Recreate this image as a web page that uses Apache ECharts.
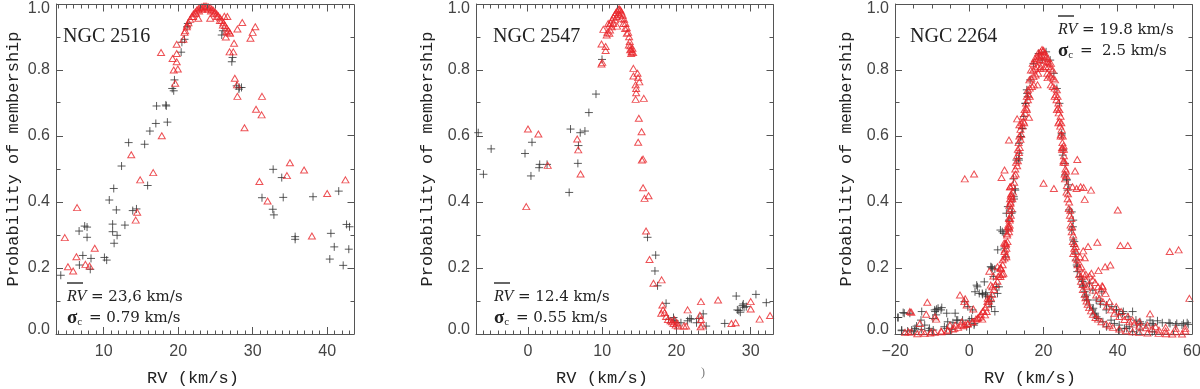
<!DOCTYPE html>
<html><head><meta charset="utf-8">
<script src="https://cdn.jsdelivr.net/npm/echarts@6/dist/echarts.min.js"></script>
<style>html,body{margin:0;padding:0;background:#fff}#c{width:1200px;height:389px}</style>
</head><body><div id="c"></div>
<script>
// ---------------- DATA ----------------
const clusterNames = ['NGC 2516', 'NGC 2547', 'NGC 2264'];
const meanRV = ['23,6', '12.4', '19.8'];
const sigmaC = ['0.79', '0.55', ' 2.5'];
const xTitle = 'RV (km/s)';
const yTitle = 'Probability of membership';
const xTicks1 = [10, 20, 30, 40];
const xTicks2 = [0, 10, 20, 30];
const xTicks3 = [-20, 0, 20, 40, 60];
const xTickLabels3 = ['\u221220', '0', '20', '40', '60'];
const yTickLabels = ['0.0', '0.2', '0.4', '0.6', '0.8', '1.0'];

// NGC 2516 — red triangles
const red1 = [
[4.78,0.292],[5.2,0.204],[5.9,0.191],[6.43,0.383],[6.34,0.234],[7.55,0.211],[8.1,0.206],[8.8,0.26],
[13.7,0.543],[14.3,0.345],[14.5,0.369],[14.9,0.467],[16.65,0.489],[17.8,0.601],[17.7,0.853],
[19.25,0.835],[19.4,0.80],[19.6,0.76],[19.8,0.825],[19.8,0.85],[19.8,0.878],[19.95,0.803],
[20.7,0.893],[20.85,0.914],[21.2,0.936],[22.7,0.957],[24.3,0.957],
[20.94,0.919],[21.16,0.931],[21.38,0.943],[21.61,0.954],[21.83,0.962],[22.05,0.970],[22.28,0.976],
[22.5,0.982],[22.72,0.986],[22.95,0.989],[23.17,0.991],[23.39,0.993],[23.6,0.994],[23.84,0.993],
[24.06,0.991],[24.29,0.989],[24.51,0.985],[24.73,0.981],[24.96,0.976],[25.18,0.970],[25.4,0.964],
[25.63,0.958],[25.85,0.951],[26.07,0.943],[26.29,0.935],[26.52,0.927],[26.74,0.919],[26.96,0.911],
[22.0,0.962],[22.4,0.972],[22.8,0.979],[23.2,0.984],[23.6,0.986],[24.0,0.984],[24.4,0.979],
[24.8,0.972],[25.2,0.962],[25.6,0.950],[26.0,0.936],
[26.2,0.963],[26.6,0.962],[26.5,0.916],[26.9,0.914],[26.4,0.90],[26.9,0.855],[27.4,0.855],
[27.5,0.881],[27.6,0.775],[27.9,0.755],[27.95,0.72],[27.95,0.924],[28.6,0.944],[29.7,0.896],
[30.0,0.914],[30.35,0.931],[30.45,0.681],[31.25,0.72],[31.2,0.664],[28.9,0.625],[30.9,0.462],
[32.0,0.403],[34.6,0.48],[35.0,0.519],[36.9,0.497],[37.95,0.297],[40.0,0.426],[42.45,0.467]
];
// NGC 2516 — black crosses
const black1 = [
[4.24,0.178],[6.7,0.312],[6.74,0.209],[7.2,0.238],[7.45,0.327],[7.77,0.324],[7.77,0.293],[8.3,0.229],
[8.2,0.196],[10.1,0.232],[10.4,0.224],[10.75,0.406],[11.2,0.333],[11.2,0.31],[11.4,0.275],[11.35,0.441],
[11.7,0.376],[11.8,0.299],[12.4,0.509],[12.85,0.33],[13.35,0.58],[13.9,0.374],[14.4,0.379],[15.5,0.575],
[15.9,0.45],[16.2,0.615],[17.0,0.638],[17.1,0.691],[18.35,0.694],[18.4,0.691],[18.55,0.642],[19.2,0.744],
[19.4,0.737],[19.5,0.77],[20.4,0.854],[20.5,0.884],[20.85,0.893],[21.2,0.931],[21.3,0.941],[26.0,0.919],
[25.85,0.906],[27.3,0.838],[27.2,0.825],[27.85,0.752],[28.2,0.747],[28.5,0.747],[28.15,0.742],
[31.25,0.413],[32.75,0.499],[32.7,0.378],[32.85,0.361],[33.9,0.474],[34.1,0.414],[35.7,0.295],
[35.7,0.287],[38.1,0.416],[40.35,0.227],[40.5,0.305],[40.95,0.264],[41.55,0.433],[42.15,0.208],
[42.6,0.332],[43.0,0.325],[42.9,0.257]
];

// NGC 2547 — red triangles
const red2 = [
[0,0.621],[1.4,0.606],[2.66,0.511],[-0.23,0.386],[6.63,0.591],[6.77,0.558],[7.08,0.485],
[9.9,0.879],[9.9,0.818],[10.0,0.823],[10.15,0.923],[10.46,0.871],[10.46,0.859],[10.6,0.906],
[10.7,0.914],[10.96,0.911],[10.8,0.941],[12.0,0.933],
[10.96,0.936],[11.14,0.943],[11.32,0.952],[11.5,0.96],[11.68,0.967],[11.86,0.974],[12.04,0.98],
[12.18,0.984],[12.31,0.985],[12.45,0.982],[12.58,0.976],[12.77,0.966],[12.95,0.954],[13.13,0.941],
[13.31,0.928],[13.49,0.914],[13.62,0.901],[13.71,0.886],[13.8,0.873],[13.89,0.863],[13.98,0.856],
[13.58,0.876],[13.76,0.861],[14.07,0.866],[13.9,0.85],[14.16,0.853],
[11.73,0.952],[11.95,0.962],[12.18,0.97],[12.4,0.967],[12.63,0.957],[12.86,0.941],[13.08,0.926],
[13.31,0.911],[11.5,0.941],[11.28,0.931],[11.05,0.921],
[14.2,0.805],[14.2,0.782],[14.5,0.755],[14.75,0.79],[14.84,0.777],[15.0,0.764],[14.57,0.744],
[14.57,0.731],[14.5,0.711],[15.6,0.714],[14.93,0.654],[15.3,0.613],[14.84,0.581],[15.34,0.527],
[15.5,0.53],[15.5,0.443],[15.7,0.411],[16.24,0.419],[15.9,0.312],[16.37,0.226],[16.9,0.154],
[18.0,0.164],[18.1,0.088],[17.95,0.063],[18.2,0.073],[18.4,0.065],[18.6,0.053],[18.85,0.044],
[19.2,0.04],[19.4,0.037],[19.6,0.032],[19.9,0.027],[20.2,0.024],[19.7,0.044],[20.07,0.034],
[21.5,0.073],[21.3,0.024],[21.0,0.024],[23.3,0.098],[23.15,0.057],[23.3,0.044],[23.25,0.022],
[23.5,0.027],[25.6,0.103],[27.4,0.032],[27.97,0.034],[30.0,0.098],[30.0,0.076],[31.2,0.045],[32.6,0.056]
];
// NGC 2547 — black crosses
const black2 = [
[-6.7,0.61],[-6.0,0.484],[-4.96,0.561],[-0.4,0.547],[0.54,0.581],[0.4,0.479],[1.5,0.504],[1.58,0.514],
[2.57,0.514],[5.55,0.429],[5.73,0.621],[6.72,0.517],[6.8,0.571],[7.04,0.61],[7.67,0.615],[8.2,0.671],
[9.16,0.727],[9.97,0.832],[16.1,0.293],[17.2,0.239],[17.1,0.191],[17.45,0.146],[18.6,0.093],
[18.94,0.045],[19.6,0.05],[19.76,0.04],[19.94,0.035],[20.6,0.034],[21.5,0.04],[21.8,0.047],[22.0,0.045],
[22.7,0.034],[23.0,0.047],[23.6,0.061],[24.0,0.024],[26.5,0.032],[28.05,0.115],[28.2,0.073],[28.4,0.071],
[28.6,0.066],[28.9,0.086],[29.1,0.081],[29.4,0.083],[29.0,0.091],[30.7,0.12],[32.1,0.095]
];

// NGC 2264 — red triangles (main bell)
const red3Core = [
[19.6,0.862],[20.0,0.86],[18.6,0.852],[19.2,0.855],[19.8,0.856],[20.4,0.852],
[17.7,0.835],[18.3,0.84],[18.9,0.843],[19.5,0.845],[20.1,0.845],[20.7,0.84],[21.2,0.835],
[17.1,0.82],[17.7,0.825],[18.3,0.83],[19.0,0.832],[19.8,0.83],[20.4,0.83],[21.0,0.826],[21.5,0.822],[22.0,0.82],
[16.6,0.80],[17.2,0.80],[17.8,0.805],[18.4,0.81],[19.2,0.81],[20.0,0.805],[20.6,0.81],[21.3,0.81],[21.9,0.805],[22.5,0.80],
[17.9,0.785],[18.6,0.79],[21.0,0.79],[21.6,0.785],
[16.2,0.77],[16.7,0.775],[17.3,0.78],[22.0,0.78],[22.6,0.775],[23.1,0.77],
[15.8,0.74],[16.3,0.745],[16.9,0.75],[17.4,0.755],[22.0,0.755],[22.5,0.75],[23.0,0.745],[23.6,0.74],
[15.5,0.72],[16.0,0.725],[23.3,0.725],[23.8,0.72],
[15.3,0.70],[15.8,0.71],[16.3,0.72],[23.0,0.72],[23.5,0.71],[24.0,0.70],
[14.9,0.68],[15.4,0.685],[23.9,0.685],[24.3,0.68],
[14.5,0.66],[15.0,0.67],[15.5,0.68],[23.6,0.68],[24.1,0.67],[24.6,0.66],
[14.1,0.64],[14.6,0.645],[24.3,0.645],[24.8,0.64],
[13.8,0.62],[14.3,0.63],[14.8,0.64],[24.0,0.64],[24.5,0.63],[24.9,0.62],
[13.5,0.60],[14.0,0.605],[24.7,0.605],[25.2,0.60],
[13.3,0.58],[13.8,0.59],[24.6,0.60],[25.1,0.58],[25.4,0.57],
[13.1,0.56],[13.6,0.565],[25.0,0.565],[25.5,0.56],
[12.9,0.54],[13.4,0.55],[25.0,0.56],[25.5,0.54],
[12.6,0.52],[13.1,0.525],[25.4,0.525],[25.8,0.52],
[12.4,0.50],[12.9,0.51],[25.4,0.52],[25.9,0.50],
[12.1,0.48],[12.5,0.485],[25.7,0.485],[26.1,0.48],
[11.6,0.45],[12.1,0.46],[25.8,0.47],[26.3,0.45],
[11.3,0.425],[11.8,0.43],[26.2,0.43],[26.6,0.425],
[11.1,0.40],[11.6,0.41],[26.5,0.41],[26.9,0.40],
[10.9,0.375],[11.4,0.38],[26.8,0.38],[27.2,0.375],
[10.7,0.35],[11.2,0.36],[27.1,0.36],[27.5,0.35],
[10.5,0.325],[10.9,0.33],[27.3,0.33],[27.7,0.325],
[10.2,0.30],[10.7,0.31],[27.6,0.31],[28.0,0.30],
[9.9,0.275],[10.3,0.28],[27.9,0.28],[28.3,0.275],
[9.5,0.25],[10.0,0.26],[28.3,0.26],[28.7,0.25],
[9.0,0.225],[9.5,0.23],[28.7,0.23],[29.1,0.225],
[8.4,0.20],[9.0,0.21],[29.2,0.21],[29.6,0.20],
[7.8,0.175],[8.3,0.18],[29.6,0.18],[30.0,0.175],
[7.1,0.15],[7.6,0.16],[30.1,0.16],[30.5,0.15],
[6.6,0.135],[30.6,0.135],[6.2,0.12],[31.1,0.12],[5.8,0.11],[31.3,0.11],[5.3,0.10],[31.6,0.10],
[4.9,0.09],[31.9,0.09],[4.4,0.08],[32.3,0.08],[3.8,0.07],[32.8,0.07],[3.1,0.06],[33.3,0.06],
[2.4,0.05],[34.0,0.05],[1.8,0.045],[34.7,0.045],[0.8,0.037],[35.6,0.037],[-0.4,0.03],[36.9,0.03],
[-1.6,0.025],[37.8,0.025],[-3,0.02],[38.7,0.02],[-4.4,0.015],[40.4,0.015],[-5.8,0.01],[42.2,0.01],
[-7.5,0.007],[44.0,0.007],[-9.3,0.005],[45.8,0.005],[-10.5,0.003],[48,0.003],[-12,0.002],[51,0.002],
[-14,0.001],[53,0.001],[54.7,0.0],[57.3,0.0]
];
// NGC 2264 — red triangles (tails and lower sequence)
const red3Tail = [
[28.0,0.244],[28.7,0.265],[29.8,0.234],[30.2,0.204],[30.7,0.184],[31.4,0.164],[32.4,0.148],[33.3,0.133],
[34.2,0.118],[35.1,0.108],[36.0,0.098],[37.1,0.085],[38.2,0.073],[39.1,0.063],[40.4,0.053],[41.8,0.044],
[43.1,0.037],[44.4,0.03],[45.8,0.024],[47.6,0.019],[49.3,0.015],[51.1,0.012],[52.9,0.009],[55.6,0.007],
[58.2,0.009],[31.6,0.143],[32.9,0.184],[34.7,0.143],[35.6,0.133],[36.7,0.123],[37.8,0.098],[39.6,0.083],
[40.9,0.068],[42.7,0.053],[44.0,0.042],[45.8,0.037],[48.0,0.027],[50.2,0.022],[52.9,0.02],[55.6,0.017],
[58.2,0.017],[6.2,0.143],[4.9,0.098],[3.6,0.068],[2.2,0.047],[0.9,0.037],[-0.4,0.032],[-2.2,0.027],
[-4,0.017],[-5.8,0.012],[-7.6,0.009],[-10.2,0.007],[-12.9,0.007],[-15.6,0.006],[-17.3,0.005],
[7.6,0.204],[8.4,0.201],[6.5,0.176],[8.4,0.174],[9.2,0.184],[10.0,0.234],[9.7,0.275],[10.2,0.305],
[11.1,0.396],[11.4,0.416],[10.9,0.345],[10.7,0.325],
[-1.33,0.098],[-0.7,0.088],[1.1,0.076],[-9.2,0.052],[-13.3,0.032],[-16.4,0.007],[-5.2,0.027],[-3.8,0.027],
[-2.0,0.037],[-1.1,0.029],[2.9,0.052],[3.5,0.045],[4.25,0.058],[4.7,0.068],[4.97,0.108],[5.8,0.148],
[5.4,0.19],[8.56,0.199],[8.9,0.181],[9.6,0.255],[9.9,0.24],[9.9,0.27],[9.4,0.276],[10.5,0.33],[10.8,0.32],
[11.0,0.35],[10.8,0.39],[11.0,0.41],[11.2,0.42],[11.0,0.446],[16.1,0.657],
[33.9,0.156],[35.95,0.143]
];
// NGC 2264 — red triangles (outliers)
const red3Out = [
[-1.2,0.47],[1.3,0.485],[-11.3,0.096],[-15.6,0.066],[-16.0,0.068],[-11.6,0.06],[-8.9,0.045],[-2.5,0.118],
[-1.1,0.107],[10.7,0.588],[9.5,0.497],[8.7,0.474],[11.0,0.446],[12.9,0.652],[13.5,0.634],[18.4,0.755],
[19.1,0.805],[21.1,0.777],[20.0,0.457],[22.8,0.441],[29.1,0.529],[28.5,0.494],[26.07,0.494],[28.9,0.441],
[30.0,0.446],[27.8,0.446],[30.8,0.444],[32.8,0.436],[31.1,0.408],[40.0,0.376],[34.5,0.278],[32.0,0.265],
[40.7,0.268],[42.7,0.268],[34.8,0.192],[36.6,0.204],[38.0,0.209],[54.0,0.25],[56.4,0.255],[59.3,0.108],
[48.7,0.061],[30.7,0.252],[31.1,0.231],[31.4,0.181],[32.4,0.176],[33.3,0.164],[35.8,0.146]
];
// NGC 2264 — black crosses
const black3 = [
[-19.1,0.05],[-17.5,0.063],[-16.0,0.063],[-18.2,0.012],[-16.6,0.009],[-14.7,0.009],[-12.9,0.014],
[-14.2,0.024],[-12,0.027],[-10.7,0.017],[-9.3,0.073],[-8.4,0.078],[-7.6,0.073],[-8.9,0.058],[-9.8,0.047],
[-5.8,0.037],[-6.7,0.022],[-4.4,0.034],[-3.1,0.042],[-1.8,0.042],[-1.3,0.098],[-0.4,0.083],[0.9,0.073],
[0,0.042],[1.3,0.027],[2.2,0.143],[2.7,0.123],[3.6,0.12],[4.4,0.118],[4.9,0.113],[5.3,0.098],[5.8,0.204],
[6.2,0.199],[6.5,0.174],[7.3,0.143],[7.6,0.123],[6.0,0.083],[6.9,0.068],[8.0,0.143],[8.4,0.315],[9.3,0.305],
[9.5,0.26],[9.8,0.234],[10.0,0.366],[10.4,0.386],[10.7,0.345],[11.4,0.366],[12.0,0.416],[12.4,0.436],
[12.7,0.527],[13.3,0.532],[13.8,0.598],[14.2,0.623],[14.7,0.659],[15.1,0.699],[15.6,0.729],[16.4,0.77],
[17.3,0.82],[18.7,0.85],[20.7,0.855],[21.8,0.83],[22.8,0.79],[23.6,0.744],[24.3,0.699],[24.9,0.608],
[25.3,0.558],[25.8,0.517],[26.2,0.467],[26.5,0.436],[26.9,0.376],[27.6,0.315],[28.0,0.285],[28.2,0.265],
[28.7,0.224],[29.1,0.204],[29.8,0.174],[30.5,0.159],[30.7,0.143],[31.1,0.128],[31.6,0.118],[32.0,0.103],
[32.4,0.088],[33.2,0.073],[33.8,0.058],[34.7,0.047],[36.0,0.037],[36.9,0.073],[38.2,0.042],[39.1,0.032],
[40.4,0.027],[41.8,0.017],[43.1,0.022],[44.9,0.042],[46.2,0.032],[47.6,0.027],[49.3,0.032],[50.7,0.04],
[52.0,0.034],[53.8,0.034],[55.6,0.027],[57.3,0.027],[58.7,0.034],[44.0,0.068],[41.3,0.062],[39.6,0.073],
[34.2,0.103],[35.3,0.091],[33.3,0.133],[32.4,0.154],[49.3,0.007],[44,0.007],[40.4,0.012],
[11.9,0.47],[12.3,0.44],[12.06,0.409],[11.6,0.37],[10.5,0.315],[8.9,0.31],[7.67,0.255],[6.05,0.202],
[6.9,0.197],[2.0,0.148],[1.55,0.128],[4.06,0.158],[4.5,0.125],[3.5,0.123],[6.05,0.113],[5.86,0.098],
[-6.07,0.063],[-7.4,0.08],[-8.8,0.075],[-9.2,0.068],[-12.8,0.068],[-13,0.042],[-14.6,0.017],[-11,0.01],
[-9.7,0.012],[-3.8,0.063],[-3.4,0.042],[0.66,0.047],[1.37,0.032],[-0.7,0.022],[-6.1,0.017],[-4.7,0.014],
[-19.3,0.05],[-17.8,0.065],[-15.5,0.012],[-18.2,0.01],
[25.8,0.482],[26.3,0.467],[26.7,0.452],[27.6,0.37],[28.0,0.345],[27.9,0.325],[28.3,0.28],[28.5,0.245],
[28.95,0.209],[29.1,0.189],[30.3,0.164],[30.6,0.148],[31.2,0.113],[31.6,0.103],[33.4,0.078],[33.9,0.063],
[34.3,0.052],[35.7,0.128],[35.4,0.098],[37.0,0.088],[38.4,0.083],[39.7,0.073],[40.2,0.058],[41.5,0.068],
[42.8,0.052],[45.1,0.027],[46.0,0.037],[48.7,0.042],[49.6,0.027],[54.1,0.032],[55.9,0.032],[57.7,0.032],
[59.0,0.029],[37.0,0.022],[42.4,0.017],[46.0,0.012],
[15.5,0.74],[15.75,0.719],[15.2,0.699],[14.4,0.623],[13.95,0.598],[13.4,0.578],[13.5,0.548],[13.4,0.527],
[24.9,0.603],[25.2,0.542],[19.6,0.83]
];

// ---------------- CHART ----------------
const AX = '#555', LBL = '#444', TXT = '#222';
const RED = '#e8262a', BLK = '#333';
const panels = [
  {left:56, width:298, min:3.6, max:43.6, majors:xTicks1, labels:xTicks1.map(String), minorStep:1, red:red1, black:black1},
  {left:476, width:297, min:-7, max:33, majors:xTicks2, labels:xTicks2.map(String), minorStep:1, red:red2, black:black2},
  {left:895, width:297, min:-20, max:60, majors:xTicks3, labels:xTickLabels3, minorStep:5, red:red3Core.concat(red3Tail, red3Out), black:black3}
];
const TOP = 4, H = 330;
const grid = [], xAxis = [], yAxis = [], series = [];
panels.forEach((p, i) => {
  grid.push({left:p.left, top:TOP, width:p.width, height:H,
    outerBounds:{left:-100, top:-100, right:-100, bottom:-100}});
  xAxis.push({gridIndex:i, type:'value', min:p.min, max:p.max, position:'bottom', splitLine:{show:false},
    axisLine:{show:true, onZero:false, lineStyle:{color:AX}},
    axisTick:{show:true, inside:true, length:7, customValues:p.majors, lineStyle:{color:AX}},
    axisLabel:{show:true, customValues:p.majors, margin:10, color:LBL, fontSize:16, fontFamily:'Liberation Sans',
      formatter:(v)=>{const k=p.majors.findIndex(m=>Math.abs(m-v)<1e-6); return k>=0?p.labels[k]:'';}}});
  yAxis.push({gridIndex:i, type:'value', min:0, max:1, interval:0.2, position:'left', splitLine:{show:false},
    axisLine:{show:true, onZero:false, lineStyle:{color:AX}},
    axisTick:{show:true, inside:true, length:7, lineStyle:{color:AX}},
    axisLabel:{show:true, margin:6, color:LBL, fontSize:16, fontFamily:'Liberation Sans',
      formatter:(v)=>{const s=yTickLabels[Math.round(v/0.2)]; if (v>0.99) return '{t|'+s+'}'; if (v<0.01) return '{b|'+s+'}'; return s;},
      rich:{t:{padding:[10,0,0,0], color:LBL, fontSize:16, fontFamily:'Liberation Sans'},
            b:{padding:[0,0,8,0], color:LBL, fontSize:16, fontFamily:'Liberation Sans'}}}});
  series.push({type:'scatter', xAxisIndex:i, yAxisIndex:i, data:p.black,
    symbol:'path://M0,5L10,5M5,0L5,10', symbolSize:8, silent:true, animation:false,
    itemStyle:{color:'none', borderColor:BLK, borderWidth:1}});
  series.push({type:'scatter', xAxisIndex:i, yAxisIndex:i, data:p.red,
    symbol:'triangle', symbolSize:[7,6], silent:true, animation:false,
    itemStyle:{color:'rgba(255,255,255,0)', borderColor:RED, borderWidth:1}});
});

const graphic = [];
const serif = 'Liberation Serif', mono = 'Liberation Mono', dserif = 'DejaVu Serif';
function txt(x, y, text, size, family, extra) {
  return Object.assign({type:'text', x:x, y:y, silent:true, style:Object.assign({text:text, fontSize:size, fontFamily:family,
    fill:TXT, align:'left', verticalAlign:'middle', textAlign:'left', textVerticalAlign:'middle'}, extra || {})});
}
const yTitleX = [13.5, 427, 846.5], xTitleX = [193, 602, 1030];
const nameX = [63, 493, 910];
const statX = [67, 494, 1058], statY = [297, 297, 30];
panels.forEach((p, i) => {
  const yt = txt(yTitleX[i], 159, yTitle, 17, mono, {align:'center', textAlign:'center'});
  yt.rotation = Math.PI / 2;
  graphic.push(yt);
  graphic.push(txt(xTitleX[i], 378, xTitle, 17, mono, {align:'center', textAlign:'center'}));
  graphic.push(txt(nameX[i], 37, clusterNames[i], 20, serif));
  const sx = statX[i], sy = statY[i];
  graphic.push({type:'line', silent:true, shape:{x1:sx, y1:sy-14, x2:sx+16, y2:sy-14}, style:{stroke:'#333', lineWidth:1.5}});
  graphic.push(txt(sx, sy, '{i|RV} = ' + meanRV[i] + ' km/s', 15, dserif,
    {rich:{i:{fontStyle:'italic', fontSize:16, fontFamily:serif, fill:TXT}}}));
  graphic.push(txt(sx, sy + 21, '{s|\u03c3}{c|c} = ' + sigmaC[i] + ' km/s', 15, dserif,
    {rich:{s:{fontWeight:'bold', fontSize:19, fontFamily:serif, fill:TXT},
           c:{fontSize:11, fontFamily:serif, fill:TXT, padding:[9,2,0,0]}}}));
});
graphic.push(txt(701, 373, ')', 12, serif, {fill:'#777'}));

const chart = echarts.init(document.getElementById('c'), null, {renderer:'canvas'});
chart.setOption({animation:false, backgroundColor:'#fff', grid:grid, xAxis:xAxis, yAxis:yAxis, series:series, graphic:graphic});

// Top/right frame and minor ticks, positioned through each panel's own axis scales
try {
  const crisp = (v) => Math.round(v - 0.5) + 0.5;
  const frame = [];
  const model = chart.getModel();
  panels.forEach((p, i) => {
    const xa = model.getComponent('xAxis', i).axis, ya = model.getComponent('yAxis', i).axis;
    const PX = (v) => xa.toGlobalCoord(xa.dataToCoord(v));
    const PY = (v) => ya.toGlobalCoord(ya.dataToCoord(v));
    const L = crisp(PX(p.min)), R = crisp(PX(p.max)), B = crisp(PY(0)), T = crisp(PY(1));
    const line = (x1, y1, x2, y2) => frame.push({type:'line', silent:true, z:100,
      shape:{x1:x1, y1:y1, x2:x2, y2:y2}, style:{stroke:AX, lineWidth:1}});
    line(L, T, R, T);
    line(R, T, R, B);
    for (let v = Math.ceil(p.min / p.minorStep) * p.minorStep; v <= p.max + 1e-9; v += p.minorStep) {
      const major = p.majors.indexOf(v) >= 0;
      const x = crisp(PX(v));
      if (!major) line(x, B, x, B - 4);
      line(x, T, x, T + (major ? 7 : 4));
    }
    for (let k = 1; k < 2 * (yTickLabels.length - 1); k++) {
      const major = k % 2 === 0;
      const y = crisp(PY(k * 0.1));
      if (!major) line(L, y, L + 4, y);
      line(R, y, R - (major ? 7 : 4), y);
    }
  });
  chart.setOption({graphic: graphic.concat(frame)});
} catch (e) { /* keep the base chart if the frame cannot be added */ }
</script></body></html>
